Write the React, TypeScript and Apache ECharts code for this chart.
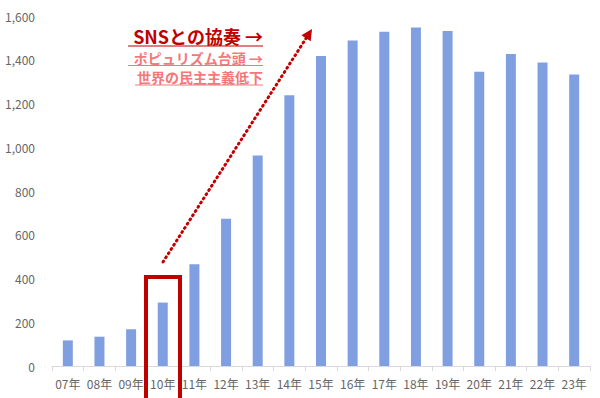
import React, { useEffect, useRef } from "react";
import * as echarts from "echarts";

const categories = ["07年","08年","09年","10年","11年","12年","13年","14年","15年","16年","17年","18年","19年","20年","21年","22年","23年"];
const values = [117, 134, 168, 290, 465, 673, 962, 1238, 1417, 1488, 1528, 1548, 1532, 1345, 1426, 1388, 1333];
const yTicks = { min: 0, max: 1600, interval: 200 };
const annotationMain = "SNSとの協奏 →";
const annotationSub1 = "ポピュリズム台頭 →";
const annotationSub2 = "世界の民主主義低下";

const FONT = "'Noto Sans CJK JP', 'Noto Sans', sans-serif";
const DARK_RED = "#C00000";
const LIGHT_RED = "#F4777A";

export default function App() {
  const ref = useRef<HTMLDivElement>(null);
  useEffect(() => {
    if (!ref.current) return;
    const chart = echarts.init(ref.current, null, { renderer: "svg" });
    const x1 = 163, y1 = 262, x2 = 312, y2 = 29;
    const dx = x2 - x1, dy = y2 - y1;
    const len = Math.sqrt(dx * dx + dy * dy);
    const ux = dx / len, uy = dy / len;
    const px = -uy, py = ux;
    const headL = 11, headW = 5.5;
    const bx = x2 - ux * headL, by = y2 - uy * headL;
    chart.setOption({
      animation: false,
      grid: { left: 52, right: 10, top: 16, bottom: 32 },
      xAxis: {
        type: "category",
        data: categories,
        axisLine: { show: true, lineStyle: { color: "#D9D9D9", width: 1 } },
        axisTick: { show: true, alignWithLabel: false, length: 5, lineStyle: { color: "#D9D9D9" } },
        axisLabel: { color: "#666666", fontSize: 12, fontFamily: FONT, margin: 11, interval: 0 },
      },
      yAxis: {
        type: "value",
        min: yTicks.min,
        max: yTicks.max,
        interval: yTicks.interval,
        splitLine: { show: false },
        axisLine: { show: false },
        axisTick: { show: false },
        axisLabel: {
          color: "#666666",
          fontSize: 12,
          fontFamily: FONT,
          margin: 17,
          formatter: (v: number) => v.toLocaleString("en-US"),
        },
      },
      series: [
        {
          type: "bar",
          data: values,
          barWidth: 10,
          itemStyle: { color: "#809FE0" },
        },
      ],
      graphic: [
        {
          type: "rect",
          shape: { x: 146, y: 277, width: 34, height: 130 },
          style: { fill: "none", stroke: DARK_RED, lineWidth: 4 },
          z: 100,
        },
        {
          type: "line",
          shape: { x1, y1, x2: bx, y2: by },
          style: { stroke: DARK_RED, lineWidth: 3, lineDash: [1, 4], lineCap: "round" },
          z: 100,
        },
        {
          type: "polygon",
          shape: {
            points: [
              [x2, y2],
              [bx + px * headW, by + py * headW],
              [bx - px * headW, by - py * headW],
            ],
          },
          style: { fill: DARK_RED },
          z: 100,
        },
        {
          type: "text",
          x: 263,
          y: 35.5,
          style: {
            text: annotationMain,
            fill: DARK_RED,
            font: `bold 18px ${FONT}`,
            align: "right",
            verticalAlign: "middle",
          },
          z: 100,
        },
        {
          type: "line",
          shape: { x1: 128, y1: 46, x2: 263, y2: 46 },
          style: { stroke: DARK_RED, lineWidth: 1.2 },
          z: 100,
        },
        {
          type: "text",
          x: 263,
          y: 57.5,
          style: {
            text: annotationSub1,
            fill: LIGHT_RED,
            font: `bold 14px ${FONT}`,
            align: "right",
            verticalAlign: "middle",
          },
          z: 100,
        },
        {
          type: "line",
          shape: { x1: 128, y1: 65.5, x2: 263, y2: 65.5 },
          style: { stroke: LIGHT_RED, lineWidth: 1 },
          z: 100,
        },
        {
          type: "text",
          x: 263,
          y: 77,
          style: {
            text: annotationSub2,
            fill: LIGHT_RED,
            font: `bold 14px ${FONT}`,
            align: "right",
            verticalAlign: "middle",
          },
          z: 100,
        },
        {
          type: "line",
          shape: { x1: 135, y1: 85, x2: 263, y2: 85 },
          style: { stroke: LIGHT_RED, lineWidth: 1 },
          z: 100,
        },
      ],
    });
    return () => chart.dispose();
  }, []);
  return <div ref={ref} style={{ width: 600, height: 398, position: "absolute", left: 0, top: 0 }} />;
}
